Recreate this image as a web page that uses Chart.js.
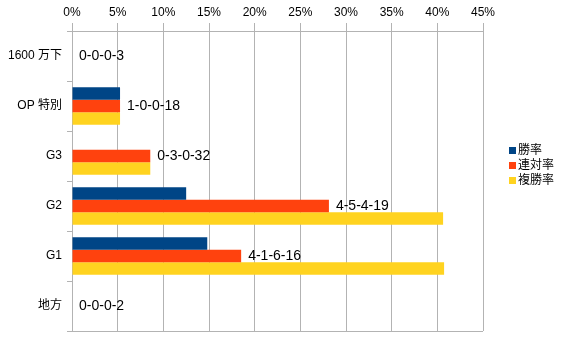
<!DOCTYPE html>
<html>
<head>
<meta charset="utf-8">
<script src="https://cdn.jsdelivr.net/npm/chart.js@4"></script>
<style>
html,body{margin:0;padding:0;background:#fff;}
#wrap{width:569px;height:338px;position:relative;}
</style>
</head>
<body>
<div id="wrap"><canvas id="c" width="569" height="338"></canvas></div>
<script>
const categories = ['1600 万下', 'OP 特別', 'G3', 'G2', 'G1', '地方'];
const seriesNames = ['勝率', '連対率', '複勝率'];
const winRate = [0, 5.26, 0, 12.5, 14.81, 0];
const placeRate = [0, 5.26, 8.57, 28.13, 18.52, 0];
const showRate = [0, 5.26, 8.57, 40.63, 40.74, 0];
const records = ['0-0-0-3', '1-0-0-18', '0-3-0-32', '4-5-4-19', '4-1-6-16', '0-0-0-2'];
const xTicks = [0, 5, 10, 15, 20, 25, 30, 35, 40, 45];
const colors = ['#004586', '#ff420e', '#ffd320'];

const FONT = '"Liberation Sans", Arial, "Noto Sans CJK JP", sans-serif';
const GRID = '#b3b3b3';

const labelPlugin = {
  id: 'recLabels',
  afterDatasetsDraw(chart) {
    const ctx = chart.ctx;
    const meta = chart.getDatasetMeta(1);
    ctx.save();
    ctx.font = '14px ' + FONT;
    ctx.fillStyle = '#000';
    ctx.textAlign = 'left';
    ctx.textBaseline = 'middle';
    meta.data.forEach((bar, i) => {
      ctx.fillText(records[i], bar.x + 7, bar.y);
    });
    ctx.restore();
  },
  afterDraw(chart) {
    const ctx = chart.ctx;
    ctx.save();
    ctx.font = '12px ' + FONT;
    ctx.textAlign = 'left';
    ctx.textBaseline = 'middle';
    seriesNames.forEach((name, i) => {
      const y = 150 + i * 15;
      ctx.fillStyle = colors[i];
      ctx.fillRect(509, y - 3, 7, 7);
      ctx.fillStyle = '#000';
      ctx.fillText(name, 518, y + 1);
    });
    ctx.restore();
  }
};

new Chart(document.getElementById('c'), {
  type: 'bar',
  data: {
    labels: categories,
    datasets: [
      { label: seriesNames[0], data: winRate, backgroundColor: colors[0] },
      { label: seriesNames[1], data: placeRate, backgroundColor: colors[1] },
      { label: seriesNames[2], data: showRate, backgroundColor: colors[2] }
    ]
  },
  options: {
    indexAxis: 'y',
    responsive: false,
    animation: false,
    devicePixelRatio: 1,
    layout: { padding: { left: 0, right: 86, top: 0, bottom: 7 } },
    datasets: { bar: { categoryPercentage: 0.75, barPercentage: 1.0, borderWidth: 0 } },
    plugins: { legend: { display: false }, tooltip: { enabled: false } },
    scales: {
      x: {
        position: 'top',
        min: 0, max: 45,
        afterBuildTicks(scale) { scale.ticks = xTicks.map(v => ({ value: v })); },
        afterFit(scale) { scale.height = 31; scale.paddingLeft = 0; scale.paddingRight = 0; },
        ticks: {
          callback: v => v + '%',
          font: { size: 12, family: FONT },
          color: '#000',
          padding: 3,
          maxRotation: 0
        },
        grid: { color: GRID, tickLength: 8, lineWidth: 1 },
        border: { color: GRID }
      },
      y: {
        afterFit(scale) { scale.width = 72; scale.paddingTop = 0; scale.paddingBottom = 0; },
        ticks: {
          font: { size: 12, family: FONT },
          color: '#000',
          padding: 5
        },
        grid: { color: GRID, drawOnChartArea: false, tickLength: 5, offset: true },
        border: { color: GRID }
      }
    }
  },
  plugins: [labelPlugin, {
    id: 'bottomLine',
    afterDraw(chart) {
      const a = chart.chartArea, ctx = chart.ctx;
      ctx.save();
      ctx.strokeStyle = GRID;
      ctx.lineWidth = 1;
      ctx.beginPath();
      ctx.moveTo(a.left - 5, Math.round(a.bottom) + 0.5);
      ctx.lineTo(a.right, Math.round(a.bottom) + 0.5);
      ctx.stroke();
      ctx.restore();
    }
  }]
});
</script>
</body>
</html>
